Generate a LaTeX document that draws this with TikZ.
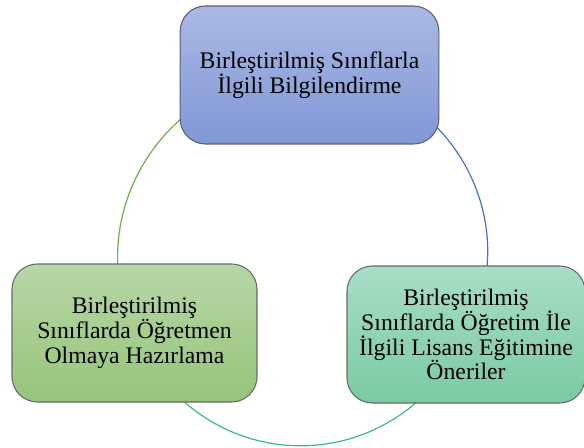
\documentclass[tikz,border=0pt]{standalone}
\usepackage{fontspec}
\setmainfont{Liberation Serif}
\usetikzlibrary{backgrounds}
\definecolor{infotop}{RGB}{170,184,227}
\definecolor{infobot}{RGB}{128,152,214}
\definecolor{infoline}{RGB}{88,96,116}
\definecolor{lictop}{RGB}{168,221,198}
\definecolor{licbot}{RGB}{122,202,163}
\definecolor{preptop}{RGB}{183,215,167}
\definecolor{prepbot}{RGB}{150,196,122}
\definecolor{boxline}{RGB}{100,108,104}
\definecolor{arcgreen}{RGB}{112,173,71}
\definecolor{arcblue}{RGB}{68,114,196}
\definecolor{arcteal}{RGB}{58,188,134}
\begin{document}
\begin{tikzpicture}[x=0.75pt,y=-0.75pt,
    box/.style={draw=boxline, line width=0.8pt, rounded corners=19pt, align=center,
        font=\fontsize{17.8}{18.6}\selectfont, inner sep=2pt},
    cyc/.style={line width=0.9pt}]
    \useasboundingbox (0,0) rectangle (584,448);
    % Boxes
    \node[box, draw=infoline, top color=infotop, bottom color=infobot,
        minimum width=194pt, minimum height=103.5pt] (info) at (309.5,75)
        {Birleştirilmiş Sınıflarla\\İlgili Bilgilendirme};
    \node[box, top color=lictop, bottom color=licbot,
        minimum width=178.5pt, minimum height=102.75pt] (lic) at (466,334.5)
        {Birleştirilmiş\\Sınıflarda Öğretim İle\\İlgili Lisans Eğitimine\\Öneriler};
    \node[box, top color=preptop, bottom color=prepbot,
        minimum width=183.75pt, minimum height=103.5pt] (prep) at (134.5,333)
        {Birleştirilmiş\\Sınıflarda Öğretmen\\Olmaya Hazırlama};
    % Arcs
    \begin{scope}[on background layer]
        \draw[cyc, draw=arcgreen] (info.center) to[bend right=59, looseness=1.12] (prep.center);
        \draw[cyc, draw=arcblue] (info.center) to[bend left=60, looseness=1.13] (lic.center);
        \draw[cyc, draw=arcteal] (lic.center) to[bend left=66, looseness=1.26] (prep.center);
    \end{scope}
\end{tikzpicture}
\end{document}
